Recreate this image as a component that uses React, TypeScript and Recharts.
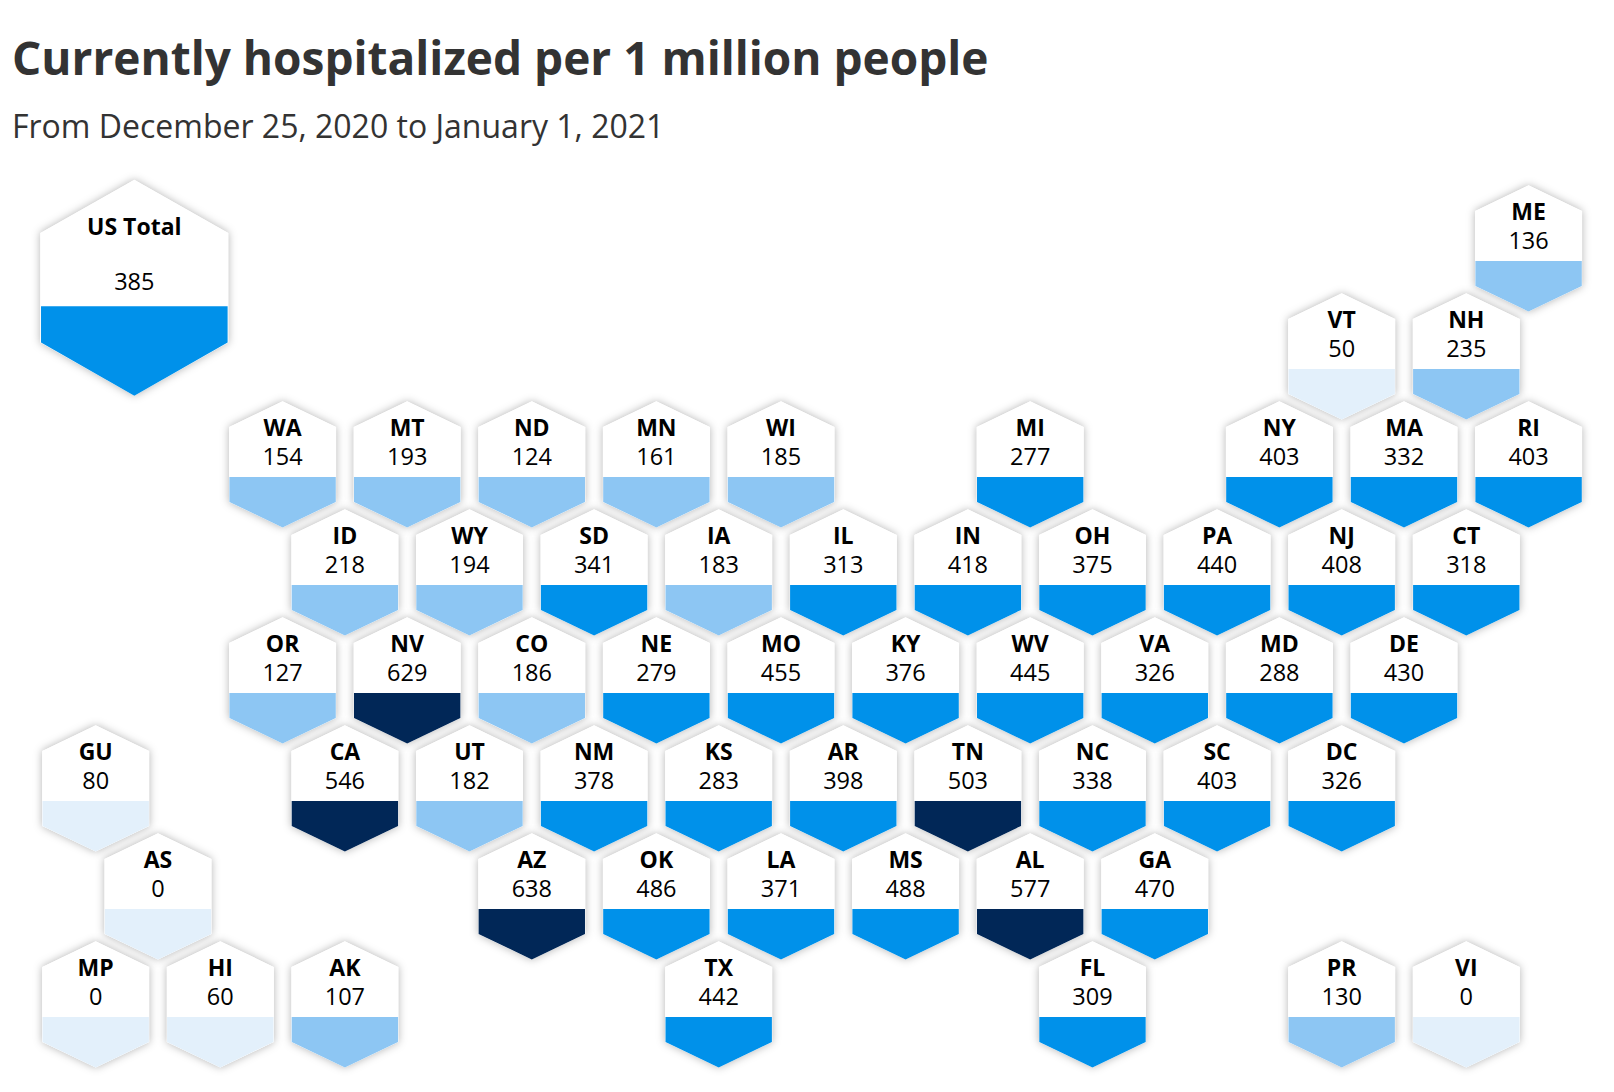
import React from "react";
import { ScatterChart, Scatter, XAxis, YAxis } from "recharts";

const stateCodes = [
  "ME","VT","NH",
  "WA","MT","ND","MN","WI","MI","NY","MA","RI",
  "ID","WY","SD","IA","IL","IN","OH","PA","NJ","CT",
  "OR","NV","CO","NE","MO","KY","WV","VA","MD","DE",
  "GU","CA","UT","NM","KS","AR","TN","NC","SC","DC",
  "AS","AZ","OK","LA","MS","AL","GA",
  "MP","HI","AK","TX","FL","PR","VI",
];
const hospitalized = [
  136,50,235,
  154,193,124,161,185,277,403,332,403,
  218,194,341,183,313,418,375,440,408,318,
  127,629,186,279,455,376,445,326,288,430,
  80,546,182,378,283,398,503,338,403,326,
  0,638,486,371,488,577,470,
  0,60,107,442,309,130,0,
];
const gridCols = [
  23,20,22,
  3,5,7,9,11,15,19,21,23,
  4,6,8,10,12,14,16,18,20,22,
  3,5,7,9,11,13,15,17,19,21,
  0,4,6,8,10,12,14,16,18,20,
  1,7,9,11,13,15,17,
  0,2,4,10,16,20,22,
];
const gridRows = [
  0,1,1,
  2,2,2,2,2,2,2,2,2,
  3,3,3,3,3,3,3,3,3,3,
  4,4,4,4,4,4,4,4,4,4,
  5,5,5,5,5,5,5,5,5,5,
  6,6,6,6,6,6,6,
  7,7,7,7,7,7,7,
];
const totalLabel = "US Total";
const totalValue = 385;
const totalCol = 0.62;
const totalRow = 0.365;

const title = "Currently hospitalized per 1 million people";
const subtitle = "From December 25, 2020 to January 1, 2021";

const tiles = stateCodes.map((code, i) => ({
  code,
  value: hospitalized[i],
  col: gridCols[i],
  row: gridRows[i],
}));
const totalTile = [{ code: totalLabel, value: totalValue, col: totalCol, row: totalRow }];

const bucketColor = (v: number) =>
  v < 100 ? "#e3f0fb" : v < 250 ? "#8dc6f3" : v < 500 ? "#0091ea" : "#012757";

const hexPoints = (cx: number, cy: number, hw: number, top: number, sh: number) =>
  [
    [cx, cy - top],
    [cx + hw, cy - sh],
    [cx + hw, cy + sh],
    [cx, cy + top],
    [cx - hw, cy + sh],
    [cx - hw, cy - sh],
  ]
    .map((p) => p.join(","))
    .join(" ");

type Geo = { hw: number; top: number; sh: number; band: number; inset: number; labelDy: number; valueDy: number };
const smallGeo: Geo = { hw: 53.5, top: 63.2, sh: 37.5, band: 12.5, inset: 0.3, labelDy: -37, valueDy: -8.2 };
const bigGeo: Geo = { hw: 94, top: 108, sh: 54.8, band: 18.4, inset: 0.7, labelDy: -61.5, valueDy: -7.2 };

const FONT = "'Open Sans', sans-serif";

const ShadowShape = (geo: Geo) => (props: any) => {
  const { cx, cy } = props;
  return (
    <polygon
      points={hexPoints(cx, cy, geo.hw, geo.top, geo.sh)}
      fill="#fff"
      style={{ filter: "drop-shadow(0 0 4px rgba(0,0,0,0.3))" }}
    />
  );
};

const HexShape = (geo: Geo) => (props: any) => {
  const { cx, cy, payload } = props;
  const { hw, top, sh, band, inset } = geo;
  const lowerY = cy + band;
  const lower = [
    [cx - hw + inset, lowerY],
    [cx + hw - inset, lowerY],
    [cx + hw - inset, cy + sh],
    [cx, cy + top],
    [cx - hw + inset, cy + sh],
  ]
    .map((p) => p.join(","))
    .join(" ");
  return (
    <g>
      <polygon points={hexPoints(cx, cy, hw, top, sh)} fill="#fff" />
      <polygon points={lower} fill={bucketColor(payload.value)} />
      <text
        x={cx}
        y={cy + geo.labelDy}
        textAnchor="middle"
        dominantBaseline="central"
        fontFamily={FONT}
        fontWeight={700}
        fontSize={23}
        fill="#000"
      >
        {payload.code}
      </text>
      <text
        x={cx}
        y={cy + geo.valueDy}
        textAnchor="middle"
        dominantBaseline="central"
        fontFamily={FONT}
        fontWeight={400}
        fontSize={23.5}
        fill="#000"
      >
        {payload.value}
      </text>
    </g>
  );
};

export default function App() {
  return (
    <div
      style={{
        position: "absolute",
        left: 0,
        top: 0,
        width: 1614,
        height: 1092,
        background: "#fff",
        overflow: "hidden",
        fontFamily: FONT,
      }}
    >
      <div
        style={{
          position: "absolute",
          left: 12,
          top: 25,
          fontSize: 46,
          lineHeight: "64px",
          fontWeight: 700,
          color: "#333",
          whiteSpace: "nowrap",
        }}
      >
        {title}
      </div>
      <div
        style={{
          position: "absolute",
          left: 12,
          top: 104,
          fontSize: 32,
          lineHeight: "44px",
          fontWeight: 400,
          color: "#333",
          whiteSpace: "nowrap",
        }}
      >
        {subtitle}
      </div>
      <div style={{ position: "absolute", left: 0, top: 0 }}>
        <ScatterChart width={1614} height={1092} margin={{ top: 0, right: 0, bottom: 0, left: 0 }}>
          <XAxis type="number" dataKey="col" hide domain={[-1.536, 24.371]} allowDataOverflow />
          <YAxis type="number" dataKey="row" hide domain={[-2.3, 7.811]} reversed allowDataOverflow />
          <Scatter data={tiles} shape={ShadowShape(smallGeo)} isAnimationActive={false} />
          <Scatter data={totalTile} shape={ShadowShape(bigGeo)} isAnimationActive={false} />
          <Scatter data={tiles} shape={HexShape(smallGeo)} isAnimationActive={false} />
          <Scatter data={totalTile} shape={HexShape(bigGeo)} isAnimationActive={false} />
        </ScatterChart>
      </div>
    </div>
  );
}
